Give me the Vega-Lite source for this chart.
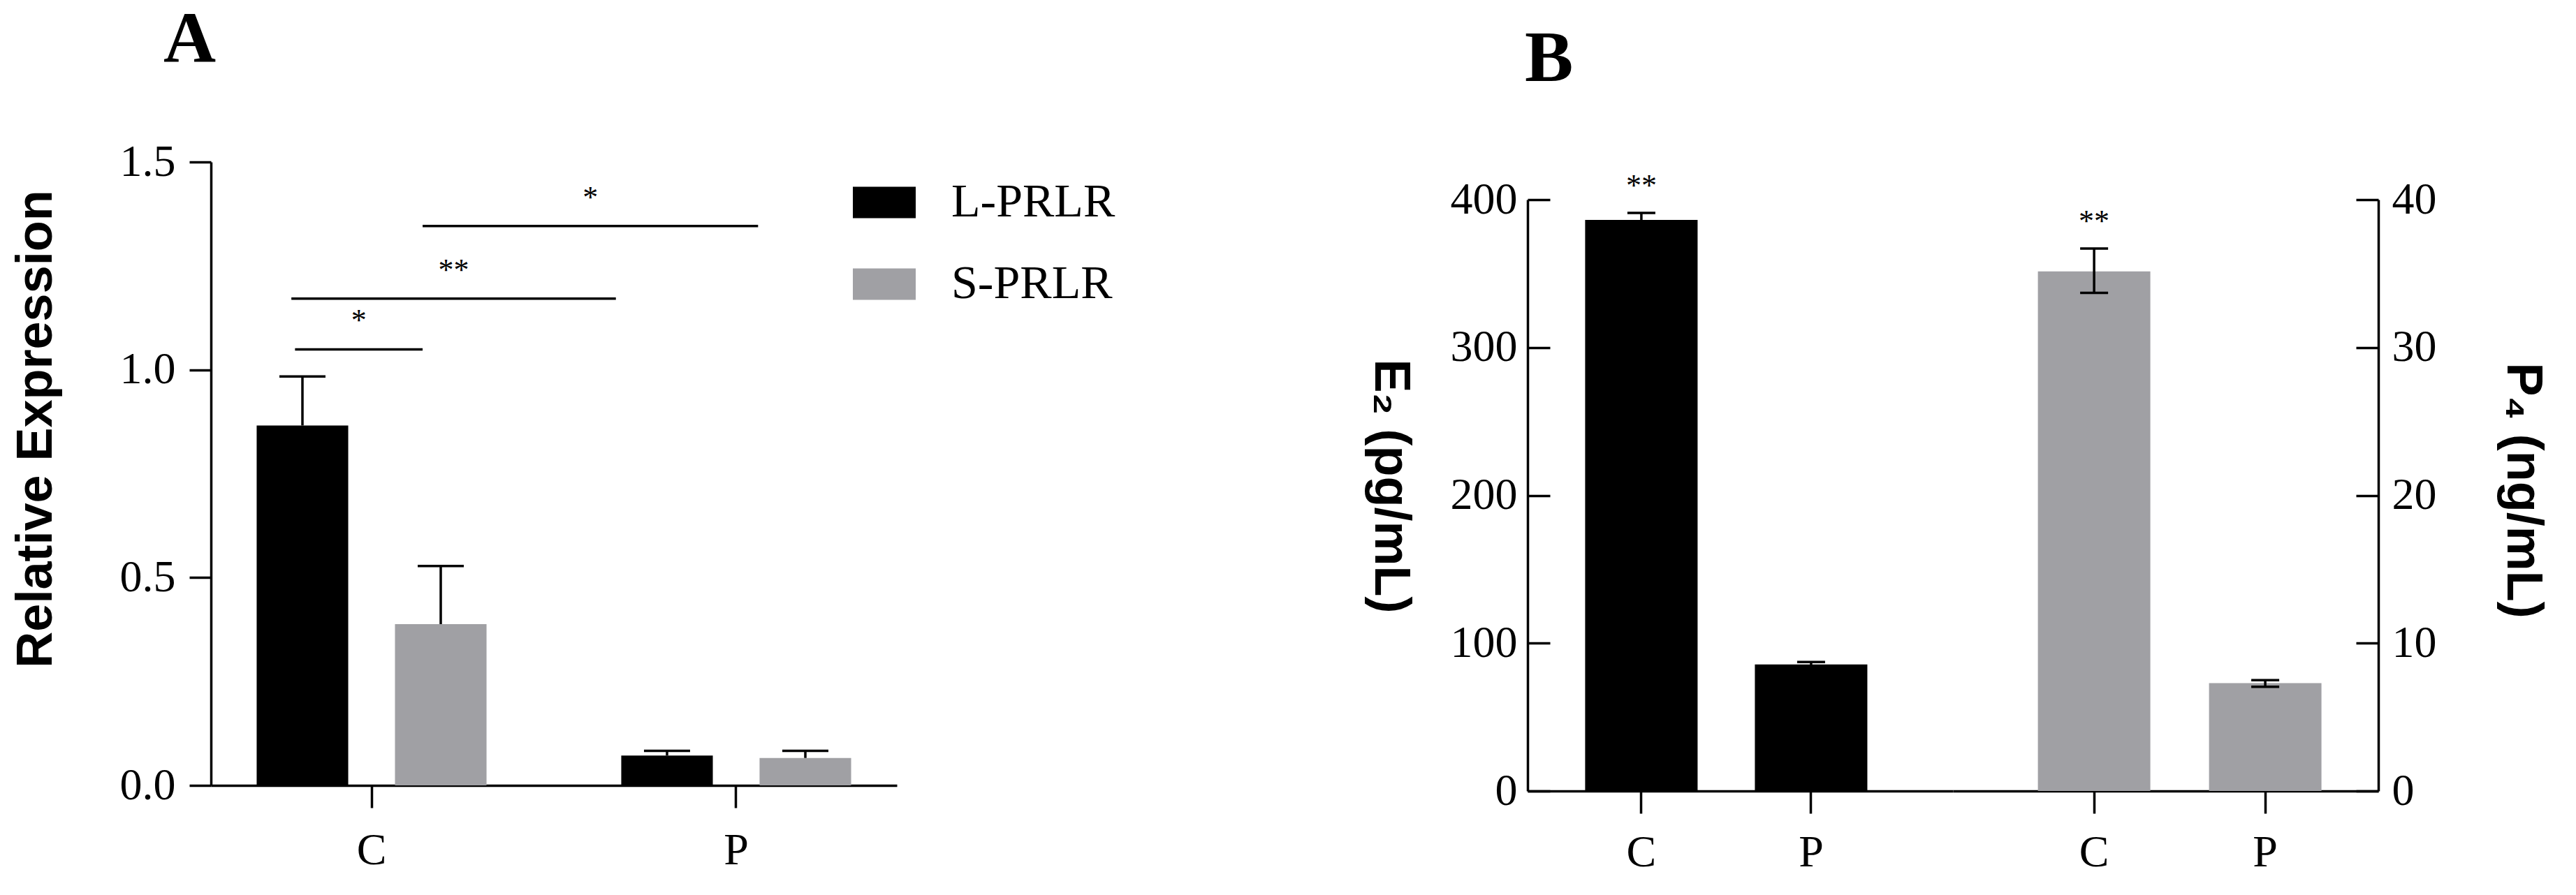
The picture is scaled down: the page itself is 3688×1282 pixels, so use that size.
{
  "$schema": "https://vega.github.io/schema/vega-lite/v6.json",
  "background": "white",
  "padding": {"left": 15, "top": 6, "right": 0, "bottom": 0},
  "spacing": 670,
  "config": {
    "view": {"stroke": null},
    "axis": {
      "grid": false,
      "domainColor": "black",
      "tickColor": "black",
      "labelColor": "black",
      "titleColor": "black",
      "domainWidth": 3.5,
      "tickWidth": 3.5,
      "labelFont": "Liberation Serif",
      "labelFontSize": 64,
      "titleFont": "Liberation Sans",
      "titleFontSize": 72,
      "titleFontWeight": "bold",
      "labelOverlap": false
    },
    "title": {"font": "Liberation Serif", "fontSize": 104, "fontWeight": "bold", "color": "black", "anchor": "start", "frame": "group", "baseline": "alphabetic"}
  },
  "datasets": {
    "prlr": [
      {"tissue": "C", "receptor": "L-PRLR", "mean": 0.866, "upper": 0.984},
      {"tissue": "C", "receptor": "S-PRLR", "mean": 0.388, "upper": 0.528},
      {"tissue": "P", "receptor": "L-PRLR", "mean": 0.072, "upper": 0.083},
      {"tissue": "P", "receptor": "S-PRLR", "mean": 0.066, "upper": 0.083}
    ],
    "brackets": [
      {"from": 0.79, "to": 1.14, "mid": 0.965, "level": 1.049, "mark": "*"},
      {"from": 0.78, "to": 1.67, "mid": 1.225, "level": 1.171, "mark": "**"},
      {"from": 1.14, "to": 2.06, "mid": 1.6, "level": 1.346, "mark": "*"}
    ],
    "hormones": [
      {"hormone": "E2", "group": "C", "mean": 386.3, "lo": 381.6, "hi": 391.0, "sig": "**"},
      {"hormone": "E2", "group": "P", "mean": 85.6, "lo": 84.0, "hi": 87.2, "sig": ""},
      {"hormone": "P4", "group": "C", "mean": 35.15, "lo": 33.7, "hi": 36.7, "sig": "**"},
      {"hormone": "P4", "group": "P", "mean": 7.3, "lo": 7.05, "hi": 7.5, "sig": ""}
    ]
  },
  "hconcat": [
    {
      "width": 982,
      "height": 893,
      "title": {"text": "A", "offset": 89, "dx": -68},
      "layer": [
        {
          "data": {"name": "prlr"},
          "encoding": {
            "x": {
              "field": "tissue", "type": "nominal", "sort": ["C", "P"],
              "scale": {"paddingInner": 0.2337, "paddingOuter": 0.0575},
              "axis": {"title": null, "labelAngle": 0, "tickSize": 32, "labelPadding": 29}
            },
            "xOffset": {
              "field": "receptor", "type": "nominal", "sort": ["L-PRLR", "S-PRLR"],
              "scale": {"paddingInner": 0.338, "paddingOuter": 0.179}
            }
          },
          "layer": [
            {
              "mark": {"type": "bar"},
              "encoding": {
                "y": {
                  "field": "mean", "type": "quantitative",
                  "scale": {"domain": [0, 1.5], "nice": false},
                  "title": "Relative Expression",
                  "axis": {"values": [0, 0.5, 1, 1.5], "format": ".1f", "tickSize": 31, "labelPadding": 20, "titlePadding": 83, "titleY": 382}
                },
                "color": {
                  "field": "receptor", "type": "nominal",
                  "scale": {"domain": ["L-PRLR", "S-PRLR"], "range": ["#000000", "#A0A0A4"]},
                  "legend": {
                    "title": null, "orient": "none", "legendX": 919, "legendY": 13,
                    "symbolType": "M-1,-0.5H1V0.5H-1Z", "symbolSize": 8100, "symbolStrokeWidth": 0,
                    "symbolOpacity": 1, "labelFont": "Liberation Serif", "labelFontSize": 68,
                    "labelColor": "black", "labelOffset": 51, "labelLimit": 600, "rowPadding": 38, "padding": 0
                  }
                }
              }
            },
            {
              "mark": {"type": "rule", "color": "black", "strokeWidth": 3.5},
              "encoding": {
                "y": {"field": "mean", "type": "quantitative", "scale": {"domain": [0, 1.5], "nice": false}, "title": "Relative Expression"},
                "y2": {"field": "upper"}
              }
            },
            {
              "mark": {"type": "tick", "orient": "horizontal", "size": 66, "thickness": 3.5, "color": "black", "opacity": 1},
              "encoding": {
                "y": {"field": "upper", "type": "quantitative", "scale": {"domain": [0, 1.5], "nice": false}, "title": "Relative Expression"}
              }
            }
          ]
        },
        {
          "data": {"name": "brackets"},
          "layer": [
            {
              "mark": {"type": "rule", "color": "black", "strokeWidth": 3.5},
              "encoding": {
                "x": {"field": "from", "type": "quantitative", "scale": {"domain": [0.5594, 2.4406], "nice": false, "zero": false}, "axis": null},
                "x2": {"field": "to"},
                "y": {"field": "level", "type": "quantitative", "scale": {"domain": [0, 1.5], "nice": false}, "title": "Relative Expression"}
              }
            },
            {
              "mark": {"type": "text", "font": "Liberation Serif", "fontSize": 44, "baseline": "alphabetic", "dy": -27, "color": "black"},
              "encoding": {
                "x": {"field": "mid", "type": "quantitative", "scale": {"domain": [0.5594, 2.4406], "nice": false, "zero": false}, "axis": null},
                "y": {"field": "level", "type": "quantitative", "scale": {"domain": [0, 1.5], "nice": false}, "title": "Relative Expression"},
                "text": {"field": "mark"}
              }
            }
          ]
        }
      ],
      "resolve": {"scale": {"x": "independent"}}
    },
    {
      "width": 1218,
      "height": 901,
      "data": {"name": "hormones"},
      "title": {"text": "B", "offset": 94, "dx": -4},
      "layer": [
        {
          "transform": [{"filter": "datum.hormone === 'E2'"}],
          "encoding": {
            "x": {
              "field": "group", "type": "nominal", "sort": ["C", "P"],
              "scale": {"range": [0, 609], "paddingInner": 0.3374, "paddingOuter": 0.4217, "align": 0.402},
              "axis": {"orient": "bottom", "title": null, "labelAngle": 0, "tickSize": 32, "labelPadding": 24}
            }
          },
          "layer": [
            {
              "mark": {"type": "bar", "color": "#000000"},
              "encoding": {
                "y": {
                  "field": "mean", "type": "quantitative",
                  "scale": {"domain": [0, 400], "nice": false, "range": [901, 54]},
                  "title": "E₂ (pg/mL)",
                  "axis": {"orient": "left", "values": [0, 100, 200, 300, 400], "tickSize": -32, "labelPadding": 47, "titleAngle": 90, "titleBaseline": "top", "titlePadding": 51, "titleY": 464}
                }
              }
            },
            {
              "mark": {"type": "rule", "color": "black", "strokeWidth": 3.5},
              "encoding": {
                "y": {"field": "lo", "type": "quantitative", "scale": {"domain": [0, 400], "nice": false, "range": [901, 54]}, "title": "E₂ (pg/mL)"},
                "y2": {"field": "hi"}
              }
            },
            {
              "mark": {"type": "tick", "orient": "horizontal", "size": 40, "thickness": 3.5, "color": "black", "opacity": 1},
              "encoding": {
                "y": {"field": "hi", "type": "quantitative", "scale": {"domain": [0, 400], "nice": false, "range": [901, 54]}, "title": "E₂ (pg/mL)"}
              }
            },
            {
              "mark": {"type": "tick", "orient": "horizontal", "size": 40, "thickness": 3.5, "color": "black", "opacity": 1},
              "encoding": {
                "y": {"field": "lo", "type": "quantitative", "scale": {"domain": [0, 400], "nice": false, "range": [901, 54]}, "title": "E₂ (pg/mL)"}
              }
            },
            {
              "mark": {"type": "text", "font": "Liberation Serif", "fontSize": 44, "baseline": "alphabetic", "dy": -25, "color": "black"},
              "encoding": {
                "y": {"field": "hi", "type": "quantitative", "scale": {"domain": [0, 400], "nice": false, "range": [901, 54]}, "title": "E₂ (pg/mL)"},
                "text": {"field": "sig"}
              }
            }
          ]
        },
        {
          "transform": [{"filter": "datum.hormone === 'P4'"}],
          "encoding": {
            "x": {
              "field": "group", "type": "nominal", "sort": ["C", "P"],
              "scale": {"range": [609, 1218], "paddingInner": 0.343, "paddingOuter": 0.4144, "align": 0.599},
              "axis": {"orient": "bottom", "title": null, "labelAngle": 0, "tickSize": 32, "labelPadding": 24}
            }
          },
          "layer": [
            {
              "mark": {"type": "bar", "color": "#A0A0A4"},
              "encoding": {
                "y": {
                  "field": "mean", "type": "quantitative",
                  "scale": {"domain": [0, 40], "nice": false, "range": [901, 54]},
                  "title": "P₄ (ng/mL)",
                  "axis": {"orient": "right", "values": [0, 10, 20, 30, 40], "tickSize": -32, "labelPadding": 51, "titleAngle": 90, "titleBaseline": "bottom", "titlePadding": 86, "titleY": 470}
                }
              }
            },
            {
              "mark": {"type": "rule", "color": "black", "strokeWidth": 3.5},
              "encoding": {
                "y": {"field": "lo", "type": "quantitative", "scale": {"domain": [0, 40], "nice": false, "range": [901, 54]}, "title": "P₄ (ng/mL)"},
                "y2": {"field": "hi"}
              }
            },
            {
              "mark": {"type": "tick", "orient": "horizontal", "size": 40, "thickness": 3.5, "color": "black", "opacity": 1},
              "encoding": {
                "y": {"field": "hi", "type": "quantitative", "scale": {"domain": [0, 40], "nice": false, "range": [901, 54]}, "title": "P₄ (ng/mL)"}
              }
            },
            {
              "mark": {"type": "tick", "orient": "horizontal", "size": 40, "thickness": 3.5, "color": "black", "opacity": 1},
              "encoding": {
                "y": {"field": "lo", "type": "quantitative", "scale": {"domain": [0, 40], "nice": false, "range": [901, 54]}, "title": "P₄ (ng/mL)"}
              }
            },
            {
              "mark": {"type": "text", "font": "Liberation Serif", "fontSize": 44, "baseline": "alphabetic", "dy": -25, "color": "black"},
              "encoding": {
                "y": {"field": "hi", "type": "quantitative", "scale": {"domain": [0, 40], "nice": false, "range": [901, 54]}, "title": "P₄ (ng/mL)"},
                "text": {"field": "sig"}
              }
            }
          ]
        }
      ],
      "resolve": {
        "scale": {"x": "independent", "y": "independent"},
        "axis": {"x": "independent", "y": "independent"}
      }
    }
  ]
}
